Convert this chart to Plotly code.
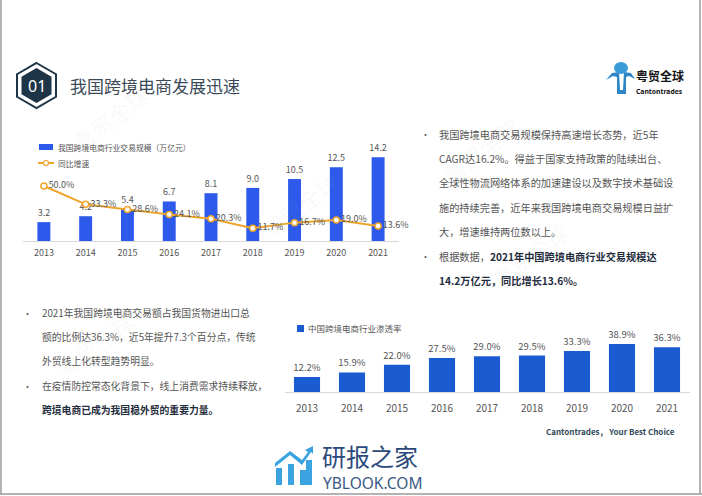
import plotly.graph_objects as go

W, H = 702, 496

# data
years = ['2013', '2014', '2015', '2016', '2017', '2018', '2019', '2020', '2021']
trade_scale = [3.2, 4.2, 5.4, 6.7, 8.1, 9.0, 10.5, 12.5, 14.2]      # 万亿元
yoy_growth = [50.0, 33.3, 28.6, 24.1, 20.3, 11.7, 16.7, 19.0, 13.6]  # %
penetration = [12.2, 15.9, 22.0, 27.5, 29.0, 29.5, 33.3, 38.9, 36.3]  # %

BLUE1 = '#2D5AEB'
BLUE2 = '#1B5BD2'
ORANGE = '#EFA52B'
GRAY_TXT = '#555555'
NAVY = '#1E3447'
DARK = '#1F2D3D'


def px(x):
    return x / W


def py(y):
    return 1 - y / H


def path(points):
    s = 'M ' + ' L '.join(f'{px(x):.5f} {py(y):.5f}' for x, y in points)
    return s + ' Z'


def hexagon(cx, cy, rx, ry):
    return [(cx, cy - ry), (cx + rx, cy - ry / 2), (cx + rx, cy + ry / 2),
            (cx, cy + ry), (cx - rx, cy + ry / 2), (cx - rx, cy - ry / 2)]


fig = go.Figure()

# chart 1: trade scale bars + yoy line
fig.add_trace(go.Bar(
    x=years, y=trade_scale, xaxis='x', yaxis='y',
    marker=dict(color=BLUE1, line=dict(width=0)), width=0.31,
    texttemplate='%{y:.1f}', textposition='outside', constraintext='none',
    textfont=dict(size=9, color=GRAY_TXT), cliponaxis=False,
    showlegend=False
))
fig.add_trace(go.Scatter(
    x=years, y=yoy_growth, xaxis='x', yaxis='y2',
    mode='lines+markers+text',
    line=dict(color=ORANGE, width=2),
    marker=dict(size=6, color='white', line=dict(color=ORANGE, width=1.5)),
    texttemplate='%{y:.1f}%', textposition='middle right',
    textfont=dict(size=9, color=GRAY_TXT), cliponaxis=False,
    showlegend=False
))

# chart 2: penetration bars
fig.add_trace(go.Bar(
    x=years, y=penetration, xaxis='x2', yaxis='y3',
    marker=dict(color=BLUE2, line=dict(width=0)), width=0.58,
    texttemplate='%{y:.1f}%', textposition='outside', constraintext='none',
    textfont=dict(size=9.5, color=GRAY_TXT), cliponaxis=False,
    showlegend=False
))

axis_x = dict(type='category', showgrid=False, zeroline=False, showline=True,
              linecolor='#D9D9D9', linewidth=1, ticks='outside',
              tickcolor='rgba(0,0,0,0)', fixedrange=True)

fig.update_layout(
    width=W, height=H,
    margin=dict(l=0, r=0, t=0, b=0),
    paper_bgcolor='white', plot_bgcolor='rgba(0,0,0,0)',
    font=dict(family='Noto Sans CJK SC', color=GRAY_TXT),
    xaxis=dict(axis_x, domain=[px(23), px(399)], range=[-0.5, 8.5], anchor='y',
               ticklen=3, tickfont=dict(size=9, color=GRAY_TXT)),
    yaxis=dict(domain=[py(241), py(130)], range=[0, 111 / 5.9], visible=False,
               anchor='x'),
    yaxis2=dict(overlaying='y', range=[0, 111 / 1.1], visible=False, anchor='x'),
    xaxis2=dict(axis_x, domain=[px(284.5), px(689.5)], range=[-0.5, 8.5],
                anchor='y3', ticklen=7, tickfont=dict(size=10, color=GRAY_TXT)),
    yaxis3=dict(domain=[py(392), py(320)], range=[0, 72 / 1.234], visible=False,
                anchor='x2'),
)

shapes = []
ann = []


def text(x, y, s, size=10.2, color=GRAY_TXT, anchor='left', **kw):
    ann.append(dict(x=px(x), y=py(y), xref='paper', yref='paper', text=s,
                    showarrow=False, xanchor=anchor, yanchor='middle',
                    font=dict(size=size, color=color,
                              family=kw.pop('family', 'Noto Sans CJK SC')),
                    **kw))


# slide border
for x0, y0, x1, y1 in [(1, 0, 1, 494), (700, 0, 700, 494), (0, 494, 702, 494)]:
    shapes.append(dict(type='line', xref='paper', yref='paper',
                       x0=px(x0), y0=py(y0), x1=px(x1), y1=py(y1),
                       line=dict(color='#9A9A9A', width=1.5)))

# watermarks
for x, y in [(110, 118), (300, 205), (480, 150), (530, 255), (95, 345)]:
    text(x, y, '粤贸全球', size=22, color='rgba(170,170,170,0.08)', anchor='center',
         textangle=-38)

# header hexagon + title
shapes.append(dict(type='path', xref='paper', yref='paper',
                   path=path(hexagon(36.5, 85.5, 19.5, 22.5)),
                   fillcolor='white', line=dict(color=NAVY, width=2)))
shapes.append(dict(type='path', xref='paper', yref='paper',
                   path=path(hexagon(36.5, 85.5, 15, 17.5)),
                   fillcolor=NAVY, line=dict(width=0)))
text(36.5, 86, '01', size=16, color='white', anchor='center', family='Noto Sans')
text(68, 85, '我国跨境电商发展迅速', size=17, color='#3B4A59')

# top-right logo
shapes.append(dict(type='path', xref='paper', yref='paper',
                   path=path([(606, 80), (612, 73), (619, 72), (620, 90),
                              (623, 90), (624, 72), (631, 73), (635, 79),
                              (629, 76), (626, 77), (626, 94), (617, 94),
                              (617, 77), (613, 76)]),
                   fillcolor='#2E86C8', line=dict(width=0)))
shapes.append(dict(type='circle', xref='paper', yref='paper',
                   x0=px(614), y0=py(74), x1=px(628), y1=py(62),
                   fillcolor='#3A9BD9', line=dict(width=0)))
text(634, 76, '<b>粤贸全球</b>', size=12, color='#111111')
text(634, 91, '<b>Cantontrades</b>', size=6.8, color='#111111', family='Noto Sans')

# chart 1 legend
shapes.append(dict(type='rect', xref='paper', yref='paper',
                   x0=px(39), y0=py(150), x1=px(53), y1=py(144),
                   fillcolor=BLUE1, line=dict(width=0)))
shapes.append(dict(type='line', xref='paper', yref='paper',
                   x0=px(38), y0=py(163), x1=px(54), y1=py(163),
                   line=dict(color=ORANGE, width=2)))
shapes.append(dict(type='circle', xref='paper', yref='paper',
                   x0=px(43.5), y0=py(165.5), x1=px(48.5), y1=py(160.5),
                   fillcolor='white', line=dict(color=ORANGE, width=1.2)))
text(56, 147, '我国跨境电商行业交易规模（万亿元）', size=7.8)
text(56, 163, '同比增速', size=7.8)

# chart 2 legend
shapes.append(dict(type='rect', xref='paper', yref='paper',
                   x0=px(297), y0=py(332), x1=px(304), y1=py(325),
                   fillcolor=BLUE2, line=dict(width=0)))
text(306, 328, '中国跨境电商行业渗透率', size=8.5)

# right text block
right_lines = [
    (134, '我国跨境电商交易规模保持高速增长态势，近5年'),
    (158, 'CAGR达16.2%。得益于国家支持政策的陆续出台、'),
    (183, '全球性物流网络体系的加速建设以及数字技术基础设'),
    (207, '施的持续完善，近年来我国跨境电商交易规模日益扩'),
    (231, '大，增速维持两位数以上。'),
    (256, f'根据数据，<b><span style="color:{DARK}">2021年中国跨境电商行业交易规模达</span></b>'),
    (280, f'<b><span style="color:{DARK}">14.2万亿元，同比增长13.6%。</span></b>'),
]
for y, s in right_lines:
    text(437, y, s)
for y in (134, 256):
    text(425, y, '•', size=9, anchor='center')

# left text block
left_lines = [
    (313, '2021年我国跨境电商交易额占我国货物进出口总'),
    (337, '额的比例达36.3%，近5年提升7.3个百分点，传统'),
    (361, '外贸线上化转型趋势明显。'),
    (386, '在疫情防控常态化背景下，线上消费需求持续释放，'),
    (410, f'<b><span style="color:{DARK}">跨境电商已成为我国稳外贸的重要力量。</span></b>'),
]
for y, s in left_lines:
    text(40, y, s, size=9.8)
for y in (313, 386):
    text(27, y, '•', size=9, anchor='center')

# tagline
text(610, 431, '<b>Cantontrades， Your Best Choice</b>', size=8, color='#2F4858',
     anchor='center')

# bottom logo
LB = '#3AA3E0'
for x0, y0 in [(276, 468), (288, 464), (300, 470)]:
    shapes.append(dict(type='rect', xref='paper', yref='paper',
                       x0=px(x0), y0=py(485), x1=px(x0 + 6), y1=py(y0),
                       fillcolor=LB, line=dict(width=0)))
shapes.append(dict(type='rect', xref='paper', yref='paper',
                   x0=px(306), y0=py(485), x1=px(312), y1=py(460),
                   fillcolor=LB, line=dict(width=0)))
shapes.append(dict(type='path', xref='paper', yref='paper',
                   path=path([(275, 463), (290, 451), (302, 460), (308, 452),
                              (305, 450), (313, 446), (313, 454), (311, 452),
                              (302, 465), (290, 455), (275, 467)]),
                   fillcolor=LB, line=dict(width=0)))
text(320, 455, '研报之家', size=24, color='#2B4A7A')
text(321, 483, 'YBLOOK.COM', size=15.5, color='#3A5A85', family='Noto Sans')

fig.update_layout(shapes=shapes, annotations=ann)

fig.write_html("out.html", config={'displayModeBar': False},
               post_script="document.body.style.margin='0px';")
